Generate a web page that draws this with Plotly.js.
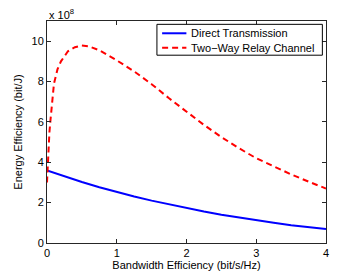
<!DOCTYPE html>
<html>
<head>
<meta charset="utf-8">
<script src="https://cdn.plot.ly/plotly-3.0.1.min.js"></script>
<style>html,body{margin:0;padding:0;background:#fff;}#chart{width:359px;height:274px;}</style>
</head>
<body>
<div id="chart"></div>
<script>
// Bandwidth efficiency (bit/s/Hz)
var directX = [0, 0.25, 0.5, 0.75, 1.0, 1.25, 1.5, 1.75, 2.0, 2.25, 2.5, 2.75, 3.0, 3.25, 3.5, 3.75, 4.0];
// Energy efficiency, units of 1e8 bit/J
var directY = [3.6, 3.3, 3.02, 2.76, 2.52, 2.3, 2.1, 1.91, 1.73, 1.56, 1.4, 1.26, 1.12, 1.0, 0.88, 0.78, 0.69];

var relayX = [0, 0.01, 0.02, 0.035, 0.05, 0.075, 0.1, 0.15, 0.2, 0.3, 0.4, 0.5, 0.6, 0.75, 0.9, 1.0, 1.25, 1.5, 1.75, 2.0, 2.25, 2.5, 2.75, 3.0, 3.25, 3.5, 3.75, 4.0];
var relayY = [3.0, 4.0, 4.8, 5.5, 6.1, 7.2, 7.9, 8.6, 9.0, 9.5, 9.7, 9.78, 9.75, 9.55, 9.27, 9.05, 8.5, 7.87, 7.17, 6.5, 5.85, 5.25, 4.7, 4.2, 3.78, 3.4, 3.04, 2.7];

var seriesNames = ['Direct Transmission', 'Two\u2212Way Relay Channel'];
var xTicks = [0, 1, 2, 3, 4];
var yTicks = [0, 2, 4, 6, 8, 10];

var font = 'Liberation Sans, Arial, Helvetica, sans-serif';
var colors = ['#0000ff', '#ff0000'];
var dashes = ['solid', '6px,4px'];

var traces = [
  {x: directX, y: directY, name: seriesNames[0], mode: 'lines', line: {color: colors[0], width: 2, dash: dashes[0]}},
  {x: relayX, y: relayY, name: seriesNames[1], mode: 'lines', line: {color: colors[1], width: 2, dash: dashes[1]}}
];

var axisCommon = {
  showline: true, linecolor: '#262626', linewidth: 1, mirror: 'ticks',
  ticks: 'inside', ticklen: 4, tickcolor: '#262626',
  showgrid: false, zeroline: false,
  tickfont: {family: font, size: 11, color: '#000'}
};

// custom MATLAB-style legend (paper coordinates)
var legBox = {x0: 0.394, x1: 0.987, y0: 0.846, y1: 0.985};
var legRows = [0.9447, 0.8796];
var legLine = [0.4126, 0.4996];
var legTextX = 0.508;

var shapes = [
  {type: 'rect', xref: 'paper', yref: 'paper', x0: legBox.x0, x1: legBox.x1, y0: legBox.y0, y1: legBox.y1,
   line: {color: '#000', width: 1}, fillcolor: '#fff', layer: 'above'}
];
var annotations = [
  {xref: 'paper', yref: 'paper', x: 0, y: 1, xanchor: 'left', yanchor: 'bottom',
   text: 'x 10<sup>8</sup>', showarrow: false, font: {family: font, size: 11}, yshift: -2}
];
seriesNames.forEach(function (n, i) {
  shapes.push({type: 'line', xref: 'paper', yref: 'paper', x0: legLine[0], x1: legLine[1], y0: legRows[i], y1: legRows[i],
    line: {color: colors[i], width: 2, dash: dashes[i]}, layer: 'above'});
  annotations.push({xref: 'paper', yref: 'paper', x: legTextX, y: legRows[i], xanchor: 'left', yanchor: 'middle',
    text: n, showarrow: false, font: {family: font, size: 11, color: '#000'}});
});

var layout = {
  width: 359, height: 274,
  margin: {l: 46.5, r: 33.3, t: 20.7, b: 30.7},
  paper_bgcolor: '#fff', plot_bgcolor: '#fff',
  font: {family: font, size: 11, color: '#000'},
  showlegend: false,
  xaxis: Object.assign({}, axisCommon, {
    range: [0, 4], tickvals: xTicks, ticktext: xTicks.map(String),
    title: {text: 'Bandwidth Efficiency (bit/s/Hz)', font: {family: font, size: 11}, standoff: 2}
  }),
  yaxis: Object.assign({}, axisCommon, {
    range: [0, 11], tickvals: yTicks, ticktext: yTicks.map(String),
    title: {text: 'Energy Efficiency (bit/J)', font: {family: font, size: 11}, standoff: 6}
  }),
  shapes: shapes,
  annotations: annotations
};

Plotly.newPlot('chart', traces, layout, {displayModeBar: false, staticPlot: true});
</script>
</body>
</html>
